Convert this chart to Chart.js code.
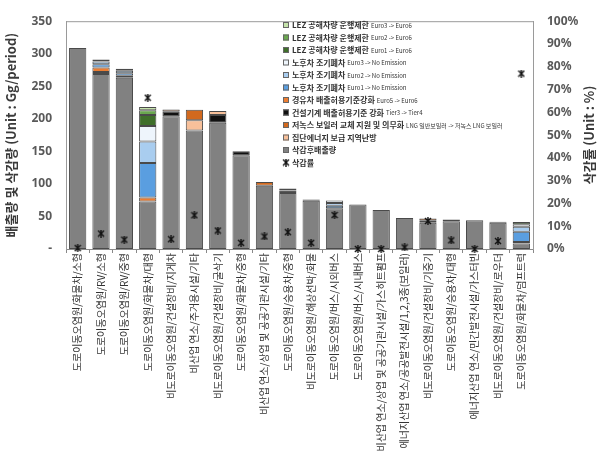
<!DOCTYPE html>
<html>
<head>
<meta charset="utf-8">
<script src="https://cdn.jsdelivr.net/npm/chart.js@4.4.0/dist/chart.umd.min.js"></script>
<style>
  body { margin: 0; background: #fff; }
</style>
</head>
<body>
<canvas id="mychart" width="611" height="472"></canvas>
<script>
const categories = [
  '도로이동오염원/화물차/소형',
  '도로이동오염원/RV/소형',
  '도로이동오염원/RV/중형',
  '도로이동오염원/화물차/대형',
  '비도로이동오염원/건설장비/지게차',
  '비산업 연소/주거용시설/기타',
  '비도로이동오염원/건설장비/굴삭기',
  '도로이동오염원/화물차/중형',
  '비산업 연소/상업 및 공공기관시설/기타',
  '도로이동오염원/승용차/중형',
  '비도로이동오염원/해상선박/화물',
  '도로이동오염원/버스/시외버스',
  '도로이동오염원/버스/시내버스',
  '비산업 연소/상업 및 공공기관시설/가스히트펌프',
  '에너지산업 연소/공공발전시설/1,2,3종(보일러)',
  '비도로이동오염원/건설장비/기중기',
  '도로이동오염원/승용차/대형',
  '에너지산업 연소/민간발전시설/가스터빈',
  '비도로이동오염원/건설장비/로우더',
  '도로이동오염원/화물차/덤프트럭'
];

// Gg/period
const afterReduction   = [309, 269, 263, 73, 204, 182, 194, 144, 97, 86, 74, 62.5, 68.4, 60, 47.7, 40.3, 42.8, 44.3, 40.3, 8.4];
const constructionTier = [0, 3, 3, 0, 7, 0, 12, 6, 0, 4, 2, 0, 0, 0, 0, 0, 2.5, 0, 1.5, 0];
const districtHeating  = [0, 0, 0, 0, 3.5, 16, 6, 0, 0, 0, 0, 0, 0, 0, 0, 3, 0, 0, 0, 0];
const lowNoxBoiler     = [0, 0, 0, 0, 0, 16, 0, 0, 6, 0, 0, 0, 0, 0, 0, 3.5, 0, 0, 0, 0];
const dieselEuro6      = [0, 7, 0, 6, 0, 0, 0, 0, 0, 3, 0, 0, 0, 0, 0, 0, 0, 0, 0, 2.4];
const scrapEuro1       = [0, 5, 4, 53, 0, 0, 0, 0, 0, 0, 0, 4, 0, 0, 0, 0, 0, 0, 0, 15.8];
const scrapEuro2       = [0, 4, 4, 33, 0, 0, 0, 0, 0, 0, 0, 4, 0, 0, 0, 0, 0, 0, 0, 7.4];
const scrapEuro3       = [0, 3, 3, 24, 0, 0, 0, 0, 0, 0, 0, 4, 0, 0, 0, 0, 0, 0, 0, 3.9];
const lezEuro1         = [0, 0, 0, 17, 0, 0, 0, 0, 0, 0, 0, 0, 0, 0, 0, 0, 0, 0, 0, 3.4];
const lezEuro2         = [0, 0, 0, 7, 0, 0, 0, 0, 0, 0, 0, 0, 0, 0, 0, 0, 0, 0, 0, 0];
const lezEuro3         = [0, 0, 0, 5, 0, 0, 0, 0, 0, 0, 0, 0, 0, 0, 0, 0, 0, 0, 0, 0];
// %
const reductionRate    = [0.4, 6.8, 4.1, 66.4, 4.3, 14.8, 8.1, 2.7, 5.5, 7.4, 2.7, 14.9, 0, 0, 0.7, 12.3, 3.8, 0, 3.5, 77];

const leftTitle = '배출량 및 삭감량 (Unit : Gg/period)';
const rightTitle = '삭감률 (Unit : %)';

const KR = '"Noto Sans CJK KR", "Noto Sans", sans-serif';

// asterisk-like marker (X with vertical stroke)
const star = document.createElement('canvas');
star.width = 8; star.height = 8;
(function () {
  const c = star.getContext('2d');
  c.strokeStyle = '#111'; c.lineWidth = 1.4;
  c.beginPath();
  c.moveTo(1, 1); c.lineTo(7, 7);
  c.moveTo(7, 1); c.lineTo(1, 7);
  c.moveTo(4, 0); c.lineTo(4, 8);
  c.stroke();
})();

// stacking order bottom -> top
const segs = [
  { label: '삭감후배출량', sub: '', data: afterReduction, color: '#818181' },
  { label: '건설기계 배출허용기준 강화', sub: 'Tier3 -> Tier4', data: constructionTier, color: '#111111' },
  { label: '집단에너지 보급 지역난방', sub: '', data: districtHeating, color: '#f8c09a' },
  { label: '저녹스 보일러 교체 지원 및 의무화', sub: 'LNG 일반보일러 -> 저녹스 LNG 보일러', data: lowNoxBoiler, color: '#d2691e' },
  { label: '경유차 배출허용기준강화', sub: 'Euro5 -> Euro6', data: dieselEuro6, color: '#ed7d31' },
  { label: '노후차 조기폐차', sub: 'Euro1 -> No Emission', data: scrapEuro1, color: '#5a9ee0' },
  { label: '노후차 조기폐차', sub: 'Euro2 -> No Emission', data: scrapEuro2, color: '#a9cdef' },
  { label: '노후차 조기폐차', sub: 'Euro3 -> No Emission', data: scrapEuro3, color: '#eef5fc' },
  { label: 'LEZ 공해차량 운행제한', sub: 'Euro1 -> Euro6', data: lezEuro1, color: '#3f6f2a' },
  { label: 'LEZ 공해차량 운행제한', sub: 'Euro2 -> Euro6', data: lezEuro2, color: '#6aa84f' },
  { label: 'LEZ 공해차량 운행제한', sub: 'Euro3 -> Euro6', data: lezEuro3, color: '#c5e3aa' }
];

const datasets = segs.map(s => ({
  type: 'bar',
  label: s.label,
  data: s.data,
  backgroundColor: s.color,
  borderColor: '#4a4a4a',
  borderWidth: 1,
  borderSkipped: false,
  yAxisID: 'y',
  order: 2
}));
datasets.push({
  type: 'line',
  label: '삭감률',
  data: reductionRate,
  yAxisID: 'y1',
  showLine: false,
  pointStyle: star,
  pointRadius: 4,
  clip: false,
  order: 1
});

// legend rows top -> bottom
const legendRows = [10, 9, 8, 7, 6, 5, 4, 1, 3, 2, 0].map(i => segs[i]);

const overlay = {
  id: 'overlay',
  afterDraw(chart) {
    const ctx = chart.ctx, a = chart.chartArea;
    ctx.save();
    ctx.strokeStyle = '#9a9a9a';
    ctx.lineWidth = 1;
    ctx.beginPath();
    ctx.moveTo(a.left, a.top + 0.5); ctx.lineTo(a.right, a.top + 0.5);
    ctx.stroke();

    // axis titles
    ctx.fillStyle = '#3a3a3a';
    ctx.font = 'bold 13px ' + KR;
    ctx.textAlign = 'center';
    ctx.textBaseline = 'middle';
    [[11, leftTitle], [589, rightTitle]].forEach(([x, t]) => {
      ctx.save();
      ctx.translate(x, (a.top + a.bottom) / 2);
      ctx.rotate(-Math.PI / 2);
      ctx.fillText(t, 0, 0);
      ctx.restore();
    });

    // legend
    const bx = 283, y0 = 25, step = 12.5;
    ctx.textAlign = 'left';
    legendRows.forEach((s, i) => {
      const y = y0 + i * step;
      ctx.fillStyle = s.color;
      ctx.fillRect(bx, y - 3, 6, 6);
      ctx.strokeStyle = '#666';
      ctx.strokeRect(bx + 0.5, y - 2.5, 5, 5);
      ctx.fillStyle = '#333';
      ctx.font = 'bold 8px ' + KR;
      ctx.fillText(s.label, bx + 9, y);
      if (s.sub) {
        const w = ctx.measureText(s.label).width;
        ctx.font = '6px ' + KR;
        ctx.fillText(s.sub, bx + 9 + w + 2, y + 0.5);
      }
    });
    const yr = y0 + legendRows.length * step;
    ctx.drawImage(star, bx - 1, yr - 4);
    ctx.fillStyle = '#333';
    ctx.font = 'bold 8px ' + KR;
    ctx.fillText('삭감률', bx + 9, yr);
    ctx.restore();
  }
};

const config = {
  data: { labels: categories, datasets: datasets },
  options: {
    responsive: false,
    animation: false,
    layout: { padding: { top: 13 } },
    plugins: { legend: { display: false }, tooltip: { enabled: false } },
    datasets: { bar: { categoryPercentage: 1, barPercentage: 0.74 } },
    scales: {
      x: {
        stacked: true,
        grid: { display: true, drawOnChartArea: false, drawTicks: true, tickLength: 4, color: '#888', offset: true },
        border: { display: true, color: '#8a8a8a' },
        ticks: {
          autoSkip: false, minRotation: 90, maxRotation: 90, padding: 0,
          color: '#333', font: { family: KR, size: 10 }
        },
        afterFit(s) { s.height = 223; }
      },
      y: {
        stacked: true,
        position: 'left',
        min: 0, max: 350,
        grid: { display: false, drawTicks: false },
        border: { display: true, color: '#9a9a9a' },
        ticks: {
          stepSize: 50, padding: 14, color: '#595959',
          font: { family: '"Noto Sans", sans-serif', size: 12, weight: 'bold' },
          callback: v => v === 0 ? '-' : v
        },
        afterFit(s) { s.width = 66; }
      },
      y1: {
        position: 'right',
        min: 0, max: 100,
        grid: { display: false, drawTicks: false },
        border: { display: true, color: '#9a9a9a' },
        ticks: {
          stepSize: 10, padding: 14, color: '#595959',
          font: { family: '"Noto Sans", sans-serif', size: 12, weight: 'bold' },
          callback: v => v + '%'
        },
        afterFit(s) { s.width = 78; }
      }
    }
  },
  plugins: [overlay]
};

const getchart = document.querySelector('#mychart');
let chart = new Chart(getchart, config);
</script>
</body>
</html>
